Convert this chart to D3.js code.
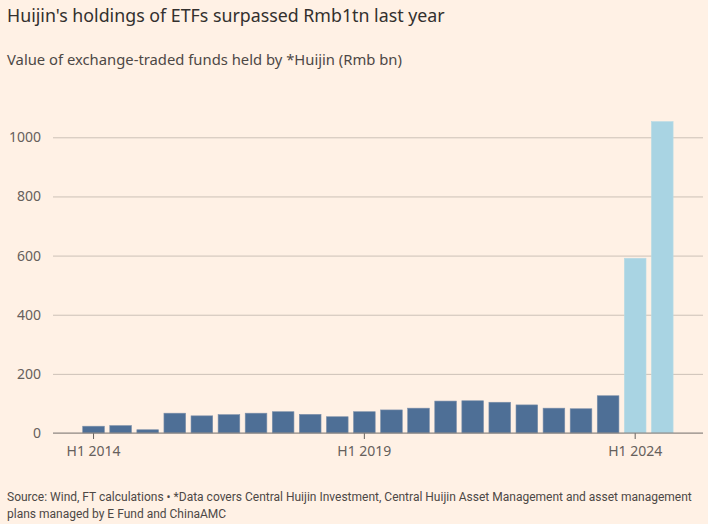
<!DOCTYPE html>
<html>
<head>
<meta charset="utf-8">
<script src="https://d3js.org/d3.v7.min.js"></script>
<style>
  body { margin: 0; background: #fff1e5; }
  svg { display: block; font-family: "Noto Sans", sans-serif; }
</style>
</head>
<body>
<svg id="chart" width="708" height="524"></svg>
<script>
// half-year periods, H1 2014 .. H2 2024
var periods = ["H1 2014","H2 2014","H1 2015","H2 2015","H1 2016","H2 2016","H1 2017","H2 2017",
  "H1 2018","H2 2018","H1 2019","H2 2019","H1 2020","H2 2020","H1 2021","H2 2021",
  "H1 2022","H2 2022","H1 2023","H2 2023","H1 2024","H2 2024"];
var values = [23, 25, 11, 67, 58, 62, 67, 72, 63, 55, 72, 78, 84, 108, 109, 104, 95, 84, 82, 126, 591, 1053];
var highlight = ["H1 2024", "H2 2024"];
var yTicks = [0, 200, 400, 600, 800, 1000];
var xTicks = ["H1 2014", "H1 2019", "H1 2024"];

var svg = d3.select("#chart");
svg.append("rect").attr("width", 708).attr("height", 524).attr("fill", "#fff1e5");

var left = 53, right = 703, bottom = 433;

var x = d3.scaleBand().domain(periods).range([80, 675.8]).paddingInner(0.2).paddingOuter(0.1);
var y = d3.scaleLinear().domain([0, 1000]).range([bottom, 137.3]);

// title + subtitle
svg.append("text").attr("x", 7).attr("y", 22).attr("fill", "#33302e")
  .style("font-size", "17.8px").text("Huijin's holdings of ETFs surpassed Rmb1tn last year");
svg.append("text").attr("x", 7).attr("y", 65).attr("fill", "#4d4845")
  .style("font-size", "14.8px").text("Value of exchange-traded funds held by *Huijin (Rmb bn)");

// gridlines
var yAxis = d3.axisLeft(y).tickValues(yTicks).tickFormat(d3.format("d"))
  .tickSize(-(right - left)).tickPadding(12);
var gy = svg.append("g").attr("transform", "translate(" + left + ",0)").call(yAxis);
gy.select(".domain").remove();
gy.selectAll(".tick line").attr("stroke", "#ccc1b7");
gy.selectAll(".tick text").attr("fill", "#66605c").style("font-size", "14px")
  .style("font-family", "Noto Sans, sans-serif");

// bars
svg.append("g").selectAll("rect").data(values).enter().append("rect")
  .attr("x", function(d, i) { return x(periods[i]); })
  .attr("width", x.bandwidth())
  .attr("y", function(d) { return y(d); })
  .attr("height", function(d) { return bottom - y(d); })
  .attr("fill", function(d, i) { return highlight.indexOf(periods[i]) >= 0 ? "#a9d4e3" : "#4e6f96"; })
  .attr("stroke", function(d, i) { return highlight.indexOf(periods[i]) >= 0 ? "#b8dbe5" : "#7d90aa"; })
  .attr("stroke-width", 0.6);

// x axis
var xAxis = d3.axisBottom(x).tickValues(xTicks).tickSize(6).tickPadding(7);
var gx = svg.append("g").attr("transform", "translate(0," + bottom + ")").call(xAxis);
gx.select(".domain").remove();
gx.selectAll(".tick line").attr("stroke", "#66605c");
gx.selectAll(".tick text").attr("fill", "#66605c").style("font-size", "14px")
  .style("font-family", "Noto Sans, sans-serif");
svg.append("line").attr("x1", left).attr("x2", right).attr("y1", bottom).attr("y2", bottom)
  .attr("stroke", "#8a8480").attr("stroke-width", 1);

// footer
var foot = svg.append("g").attr("fill", "#4d4845")
  .style("font-family", "'Liberation Sans Narrow', 'Roboto', sans-serif").style("font-size", "12px");
foot.append("text").attr("x", 7).attr("y", 501)
  .text("Source: Wind, FT calculations \u2022 *Data covers Central Huijin Investment, Central Huijin Asset Management and asset management");
foot.append("text").attr("x", 7).attr("y", 518).text("plans managed by E Fund and ChinaAMC");
</script>
</body>
</html>
